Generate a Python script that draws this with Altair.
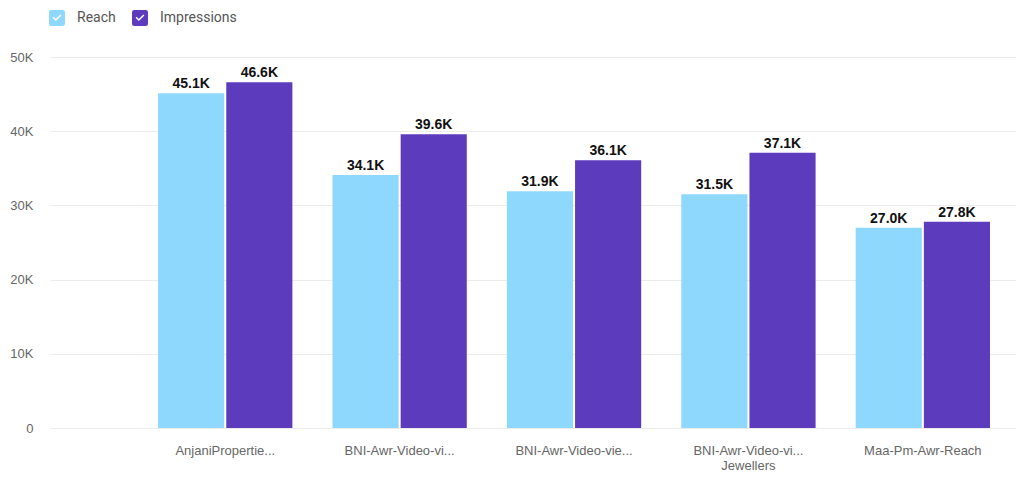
import altair as alt
import pandas as pd

campaigns = [
    "AnjaniPropertie...",
    "BNI-Awr-Video-vi...",
    "BNI-Awr-Video-vie...",
    "BNI-Awr-Video-vi...|Jewellers",
    "Maa-Pm-Awr-Reach",
]
metrics = ["Reach", "Impressions"]
reach = [45100, 34100, 31900, 31500, 27000]
impressions = [46600, 39600, 36100, 37100, 27800]
colors = ["#8fd8fd", "#5c3bbd"]

rows = []
for c, r, i in zip(campaigns, reach, impressions):
    rows.append({"campaign": c, "metric": "Reach", "value": r})
    rows.append({"campaign": c, "metric": "Impressions", "value": i})
df = pd.DataFrame(rows)

check_box = (
    "M -0.72 -1 L 0.72 -1 Q 1 -1 1 -0.72 L 1 0.72 Q 1 1 0.72 1 L -0.72 1 "
    "Q -1 1 -1 0.72 L -1 -0.72 Q -1 -1 -0.72 -1 Z "
    "M -0.55 -0.02 L -0.15 0.38 L 0.55 -0.32 L 0.42 -0.45 L -0.15 0.12 L -0.42 -0.15 Z"
)

base = alt.Chart(df).transform_calculate(
    lbl="format(datum.value / 1000, '.1f') + 'K'"
).encode(
    x=alt.X(
        "campaign:N",
        sort=campaigns,
        title=None,
        scale=alt.Scale(paddingInner=0.23, paddingOuter=0.3845, align=0.806),
        axis=alt.Axis(
            labelExpr="split(datum.value, '|')",
            labelAngle=0,
            labelColor="#666666",
            labelFont="Liberation Sans",
            labelFontSize=13,
            labelPadding=16,
            labelLineHeight=15,
            ticks=False,
            domain=False,
            grid=False,
        ),
    ),
    xOffset=alt.XOffset("metric:N", sort=metrics, scale=alt.Scale(paddingInner=0.03)),
    y=alt.Y(
        "value:Q",
        title=None,
        scale=alt.Scale(domain=[0, 50000]),
        axis=alt.Axis(
            values=[0, 10000, 20000, 30000, 40000, 50000],
            labelExpr="datum.value == 0 ? '0' : (datum.value / 1000) + 'K'",
            labelColor="#666666",
            labelFont="Liberation Sans",
            labelFontSize=13,
            labelPadding=17,
            ticks=False,
            domain=False,
            gridColor="#ececec",
            gridWidth=1,
        ),
    ),
)

bars = base.mark_bar().encode(
    color=alt.Color(
        "metric:N",
        sort=metrics,
        scale=alt.Scale(domain=metrics, range=colors),
        legend=alt.Legend(
            title=None,
            orient="none",
            legendX=-1,
            legendY=-47,
            direction="horizontal",
            symbolType=check_box,
            symbolSize=256,
            symbolStrokeWidth=0,
            symbolOpacity=1,
            labelFont="Roboto",
            labelFontSize=14,
            labelColor="#555555",
            labelOffset=12,
            columnPadding=16,
        ),
    )
)

text = base.mark_text(
    baseline="bottom",
    dy=-2,
    fontWeight="bold",
    fontSize=14,
    font="Liberation Sans",
    color="#111111",
).encode(text="lbl:N")

chart = alt.layer(bars, text).properties(
    width=966,
    height=371,
    autosize=alt.AutoSizeParams(type="none"),
    padding={"left": 42, "top": 49, "right": 0, "bottom": 45},
).configure_view(stroke=None)

chart.save("out.html", embed_options={"renderer": "svg", "actions": False})
